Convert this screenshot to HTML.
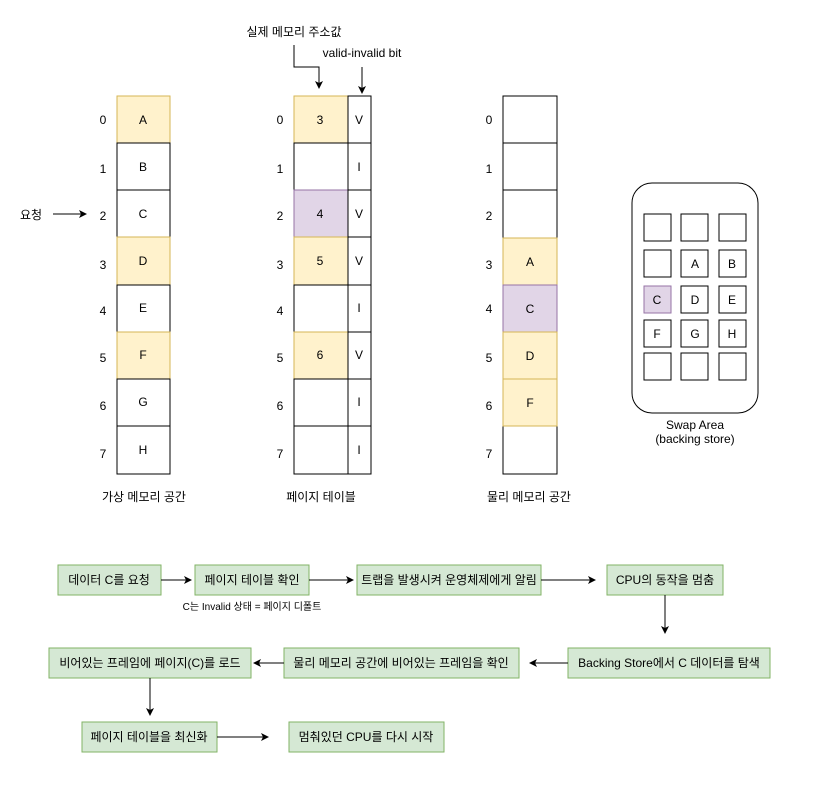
<!DOCTYPE html>
<html><head><meta charset="utf-8"><style>
html,body{margin:0;padding:0;background:#fff;}
svg text{font-family:"Liberation Sans","Noto Sans CJK KR",sans-serif;font-size:12px;fill:#000;}
</style></head><body>
<svg width="840" height="780" viewBox="0 0 840 780" xmlns="http://www.w3.org/2000/svg">
<defs><marker id="a" markerWidth="8" markerHeight="8" refX="7" refY="4" orient="auto" markerUnits="userSpaceOnUse"><path d="M0,0 L8,4 L0,8 L2,4 z" fill="#000"/></marker></defs>
<g stroke-width="1">
<!-- virtual memory -->
<g text-anchor="middle">
<rect x="117" y="96" width="53" height="47" fill="#fff2cc" stroke="#d6b656"/>
<rect x="117" y="143" width="53" height="47" fill="#fff" stroke="#000"/>
<rect x="117" y="190" width="53" height="47" fill="#fff" stroke="#000"/>
<rect x="117" y="237" width="53" height="48" fill="#fff2cc" stroke="#d6b656"/>
<rect x="117" y="285" width="53" height="47" fill="#fff" stroke="#000"/>
<rect x="117" y="332" width="53" height="47" fill="#fff2cc" stroke="#d6b656"/>
<rect x="117" y="379" width="53" height="47" fill="#fff" stroke="#000"/>
<rect x="117" y="426" width="53" height="48" fill="#fff" stroke="#000"/>
<text x="143" y="124">A</text><text x="143" y="171">B</text><text x="143" y="218">C</text><text x="143" y="265">D</text>
<text x="143" y="312">E</text><text x="143" y="359">F</text><text x="143" y="406">G</text><text x="143" y="454">H</text>
<text x="103" y="124">0</text><text x="103" y="173">1</text><text x="103" y="220">2</text><text x="103" y="269">3</text>
<text x="103" y="315">4</text><text x="103" y="362">5</text><text x="103" y="410">6</text><text x="103" y="458">7</text>
<text x="144" y="501">가상 메모리 공간</text>
</g>
<text x="20" y="219">요청</text>
<line x1="53" y1="214" x2="86" y2="214" stroke="#000" marker-end="url(#a)"/>
<!-- page table -->
<g text-anchor="middle">
<rect x="294" y="96" width="54" height="47" fill="#fff2cc" stroke="#d6b656"/>
<rect x="294" y="143" width="54" height="47" fill="#fff" stroke="#000"/>
<rect x="294" y="190" width="54" height="47" fill="#e1d5e7" stroke="#9673a6"/>
<rect x="294" y="237" width="54" height="48" fill="#fff2cc" stroke="#d6b656"/>
<rect x="294" y="285" width="54" height="47" fill="#fff" stroke="#000"/>
<rect x="294" y="332" width="54" height="47" fill="#fff2cc" stroke="#d6b656"/>
<rect x="294" y="379" width="54" height="47" fill="#fff" stroke="#000"/>
<rect x="294" y="426" width="54" height="48" fill="#fff" stroke="#000"/>
<g fill="none" stroke="#000">
<rect x="348" y="96" width="23" height="47"/><rect x="348" y="143" width="23" height="47"/><rect x="348" y="190" width="23" height="47"/><rect x="348" y="237" width="23" height="48"/>
<rect x="348" y="285" width="23" height="47"/><rect x="348" y="332" width="23" height="47"/><rect x="348" y="379" width="23" height="47"/><rect x="348" y="426" width="23" height="48"/>
</g>
<text x="320" y="124">3</text><text x="320" y="218">4</text><text x="320" y="265">5</text><text x="320" y="359">6</text>
<text x="359" y="124">V</text><text x="359" y="171">I</text><text x="359" y="218">V</text><text x="359" y="265">V</text>
<text x="359" y="312">I</text><text x="359" y="359">V</text><text x="359" y="406">I</text><text x="359" y="454">I</text>
<text x="280" y="124">0</text><text x="280" y="173">1</text><text x="280" y="220">2</text><text x="280" y="269">3</text>
<text x="280" y="315">4</text><text x="280" y="362">5</text><text x="280" y="410">6</text><text x="280" y="458">7</text>
<text x="321" y="501">페이지 테이블</text>
<text x="294" y="36">실제 메모리 주소값</text>
<text x="362" y="57">valid-invalid bit</text>
</g>
<path d="M294,45 V67 H319 V88" fill="none" stroke="#000" marker-end="url(#a)"/>
<line x1="362" y1="67" x2="362" y2="93" stroke="#000" marker-end="url(#a)"/>
<!-- physical -->
<g text-anchor="middle">
<g fill="#fff" stroke="#000">
<rect x="503" y="96" width="54" height="47"/><rect x="503" y="143" width="54" height="47"/><rect x="503" y="190" width="54" height="48"/>
<rect x="503" y="426" width="54" height="48"/>
</g>
<rect x="503" y="238" width="54" height="47" fill="#fff2cc" stroke="#d6b656"/>
<rect x="503" y="285" width="54" height="47" fill="#e1d5e7" stroke="#9673a6"/>
<rect x="503" y="332" width="54" height="47" fill="#fff2cc" stroke="#d6b656"/>
<rect x="503" y="379" width="54" height="47" fill="#fff2cc" stroke="#d6b656"/>
<text x="530" y="266">A</text><text x="530" y="313">C</text><text x="530" y="360">D</text><text x="530" y="407">F</text>
<text x="489" y="124">0</text><text x="489" y="173">1</text><text x="489" y="220">2</text><text x="489" y="269">3</text>
<text x="489" y="313">4</text><text x="489" y="362">5</text><text x="489" y="410">6</text><text x="489" y="458">7</text>
<text x="529" y="501">물리 메모리 공간</text>
</g>
<!-- swap -->
<rect x="632" y="183" width="126" height="230" rx="20" fill="#fff" stroke="#000"/>
<g fill="#fff" stroke="#000">
<rect x="644" y="214" width="27" height="27"/><rect x="681" y="214" width="27" height="27"/><rect x="719" y="214" width="27" height="27"/>
<rect x="644" y="250" width="27" height="27"/><rect x="681" y="250" width="27" height="27"/><rect x="719" y="250" width="27" height="27"/>
<rect x="681" y="286" width="27" height="27"/><rect x="719" y="286" width="27" height="27"/>
<rect x="644" y="320" width="27" height="27"/><rect x="681" y="320" width="27" height="27"/><rect x="719" y="320" width="27" height="27"/>
<rect x="644" y="353" width="27" height="27"/><rect x="681" y="353" width="27" height="27"/><rect x="719" y="353" width="27" height="27"/>
</g>
<rect x="644" y="286" width="27" height="27" fill="#e1d5e7" stroke="#9673a6"/>
<g text-anchor="middle">
<text x="695" y="268">A</text><text x="732" y="268">B</text>
<text x="657" y="304">C</text><text x="695" y="304">D</text><text x="732" y="304">E</text>
<text x="657" y="338">F</text><text x="695" y="338">G</text><text x="732" y="338">H</text>
<text x="695" y="429">Swap Area</text><text x="695" y="443">(backing store)</text>
</g>
<!-- flow -->
<g fill="#d5e8d4" stroke="#82b366">
<rect x="58" y="565" width="103" height="30"/>
<rect x="195" y="565" width="114" height="30"/>
<rect x="357" y="565" width="184" height="30"/>
<rect x="607" y="565" width="116" height="30"/>
<rect x="568" y="648" width="202" height="30"/>
<rect x="284" y="648" width="235" height="30"/>
<rect x="49" y="648" width="202" height="30"/>
<rect x="82" y="722" width="135" height="30"/>
<rect x="289" y="722" width="155" height="30"/>
</g>
<g text-anchor="middle">
<text x="109" y="584">데이터 C를 요청</text>
<text x="252" y="584">페이지 테이블 확인</text>
<text x="449" y="584">트랩을 발생시켜 운영체제에게 알림</text>
<text x="665" y="584">CPU의 동작을 멈춤</text>
<text x="669" y="667">Backing Store에서 C 데이터를 탐색</text>
<text x="401" y="667">물리 메모리 공간에 비어있는 프레임을 확인</text>
<text x="150" y="667">비어있는 프레임에 페이지(C)를 로드</text>
<text x="149" y="741">페이지 테이블을 최신화</text>
<text x="366" y="741">멈춰있던 CPU를 다시 시작</text>
<text x="252" y="610" style="font-size:10px">C는 Invalid 상태 = 페이지 디폴트</text>
</g>
<g stroke="#000" fill="none">
<line x1="161" y1="580" x2="191" y2="580" marker-end="url(#a)"/>
<line x1="309" y1="580" x2="353" y2="580" marker-end="url(#a)"/>
<line x1="541" y1="580" x2="595" y2="580" marker-end="url(#a)"/>
<line x1="665" y1="595" x2="665" y2="633" marker-end="url(#a)"/>
<line x1="568" y1="663" x2="530" y2="663" marker-end="url(#a)"/>
<line x1="284" y1="663" x2="254" y2="663" marker-end="url(#a)"/>
<line x1="150" y1="678" x2="150" y2="715" marker-end="url(#a)"/>
<line x1="217" y1="737" x2="268" y2="737" marker-end="url(#a)"/>
</g>
</g>
</svg>
</body></html>
